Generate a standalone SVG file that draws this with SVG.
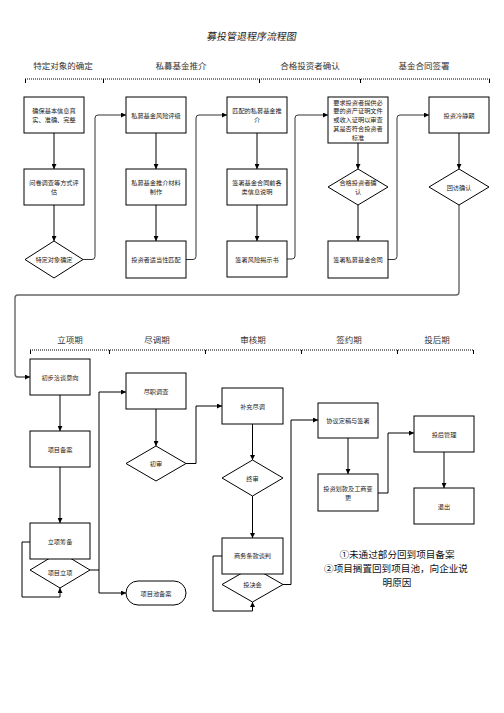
<svg xmlns="http://www.w3.org/2000/svg" width="504" height="713" viewBox="0 0 504 713">
<defs>
<marker id="ah" markerUnits="userSpaceOnUse" markerWidth="5" markerHeight="5" refX="5" refY="2.5" orient="auto">
<path d="M0,0 L5,2.5 L0,5 z" fill="#000"/>
</marker>
<style>
.bx{fill:#fff;stroke:#000;stroke-width:1}
.t{font-family:"Noto Sans CJK SC","Liberation Sans",sans-serif;font-size:6.2px;fill:#222;text-anchor:middle;dominant-baseline:central}
.h{font-family:"Noto Sans CJK SC","Liberation Sans",sans-serif;font-size:8.5px;fill:#333;text-anchor:middle;dominant-baseline:central}
.c{fill:none;stroke:#000;stroke-width:1;marker-end:url(#ah)}
.cg{fill:none;stroke:#333;stroke-width:1;marker-end:url(#ah)}
.cg2{fill:none;stroke:#666;stroke-width:1.4;marker-end:url(#ah)}
.dot{fill:none;stroke:#000;stroke-width:1;stroke-dasharray:1,1}
.tk{stroke:#000;stroke-width:1}
.n{font-family:"Noto Sans CJK SC","Liberation Sans",sans-serif;font-size:9.6px;fill:#111;text-anchor:middle}
</style>
</defs>
<rect width="504" height="713" fill="#fff"/>
<text x="252" y="36" font-family="Noto Sans CJK SC, Liberation Sans, sans-serif" font-size="10" fill="#222" text-anchor="middle" dominant-baseline="central" transform="skewX(-10) translate(6.3,0)">募投管退程序流程图</text>

<g id="header1">
<text class="h" x="63" y="65">特定对象的确定</text>
<text class="h" x="181" y="65">私募基金推介</text>
<text class="h" x="310" y="65">合格投资者确认</text>
<text class="h" x="424" y="65">基金合同签署</text>
<line class="dot" x1="25" y1="79" x2="490" y2="79"/>
<path class="tk" d="M25.5,79V83M103.5,79V83M259.5,79V83M360.5,79V83M489.5,79V83"/>
</g>

<g id="header2">
<text class="h" x="70" y="339">立项期</text>
<text class="h" x="157" y="339">尽调期</text>
<text class="h" x="253" y="339">审核期</text>
<text class="h" x="349" y="339">签约期</text>
<text class="h" x="437" y="339">投后期</text>
<line class="dot" x1="30" y1="350" x2="474" y2="350"/>
<path class="tk" d="M30.5,350V354M109.5,350V354M205.5,350V354M301.5,350V354M397.5,350V354M473.5,350V354"/>
</g>

<g id="connectors">
<path class="c" d="M54,133V169"/>
<path class="c" d="M54,205V241"/>
<path class="c" d="M156,133V169"/>
<path class="c" d="M156,205V241"/>
<path class="c" d="M257,133V169"/>
<path class="c" d="M257,205V241"/>
<path class="c" d="M358,143V169"/>
<path class="c" d="M358,205V241"/>
<path class="c" d="M459,133V169"/>
<path class="cg" d="M83,259.5H92Q95,259.5 95,256.5V118Q95,115 98,115H126"/>
<path class="cg" d="M186,259.5H193Q196,259.5 196,256.5V118Q196,115 199,115H227"/>
<path class="cg" d="M287,259H292Q295,259 295,256V118Q295,115 298,115H328"/>
<path class="cg" d="M388,259.5H394Q397,259.5 397,256.5V118Q397,115 400,115H429"/>
<path class="cg2" d="M459,205V292Q459,295 456,295H18Q15,295 15,298V374Q15,377 18,377H30"/>

<path class="c" d="M60,395V431"/>
<path class="c" d="M60,467V523"/>
<path class="c" d="M30,542H22V597H60V588"/>
<path class="c" d="M90,570H99V392H126"/>
<path class="c" d="M99,570V593H126"/>
<path class="c" d="M156,409V446"/>
<path class="c" d="M186,463.5H196V406H222"/>
<path class="c" d="M252.5,424V460"/>
<path class="c" d="M252.5,496V538"/>
<path class="c" d="M222,556H213V611H252.5V602"/>
<path class="c" d="M283,584.5H291V420H318"/>
<path class="c" d="M348,438V474"/>
<path class="c" d="M378,493H388V433H414"/>
<path class="c" d="M444,452V488"/>
</g>

<g id="n1"><rect class="bx" x="24" y="97" width="60" height="36"/><text class="t" x="54" y="110.5">确保基本信息真</text><text class="t" x="54" y="119.5">实、准确、完整</text></g>
<g id="n2"><rect class="bx" x="24" y="169" width="60" height="36"/><text class="t" x="54" y="182.5">问卷调查等方式评</text><text class="t" x="54" y="191.5">估</text></g>
<g id="n3"><polygon class="bx" points="54,241 83,259.5 54,278 25,259.5"/><text class="t" x="54" y="259.5">特定对象确定</text></g>

<g id="n4"><rect class="bx" x="126" y="97" width="60" height="36"/><text class="t" x="156" y="115">私募基金风险评级</text></g>
<g id="n5"><rect class="bx" x="126" y="169" width="60" height="36"/><text class="t" x="156" y="182.5">私募基金推介材料</text><text class="t" x="156" y="191.5">制作</text></g>
<g id="n6"><rect class="bx" x="126" y="241" width="60" height="37"/><text class="t" x="156" y="259.5">投资者适当性匹配</text></g>

<g id="n7"><rect class="bx" x="227" y="97" width="60" height="36"/><text class="t" x="257" y="110.5">匹配的私募基金推</text><text class="t" x="257" y="119.5">介</text></g>
<g id="n8"><rect class="bx" x="227" y="169" width="60" height="36"/><text class="t" x="257" y="182.5">签署基金合同前各</text><text class="t" x="257" y="191.5">类信息说明</text></g>
<g id="n9"><rect class="bx" x="227" y="241" width="60" height="36"/><text class="t" x="257" y="259">签署风险揭示书</text></g>

<g id="n10"><rect class="bx" x="328" y="97" width="60" height="46"/>
<text class="t" x="358" y="102">要求投资者提供必</text><text class="t" x="358" y="110.8">要的资产证明文件</text><text class="t" x="358" y="119.6">或收入证明以审查</text><text class="t" x="358" y="128.4">其是否符合投资者</text><text class="t" x="358" y="137.2">标准</text></g>
<g id="n11"><polygon class="bx" points="358,169 388,187 358,205 328,187"/><text class="t" x="358" y="182.5">合格投资者确</text><text class="t" x="358" y="191.5">认</text></g>
<g id="n12"><rect class="bx" x="328" y="241" width="60" height="37"/><text class="t" x="358" y="259.5">签署私募基金合同</text></g>

<g id="n13"><rect class="bx" x="429" y="97" width="60" height="36"/><text class="t" x="459" y="115">投资冷静期</text></g>
<g id="n14"><polygon class="bx" points="459,169 489,187 459,205 429,187"/><text class="t" x="459" y="187">回访确认</text></g>

<g id="m1"><rect class="bx" x="30" y="359" width="60" height="36"/><text class="t" x="60" y="377">初步洽谈意向</text></g>
<g id="m2"><rect class="bx" x="30" y="431" width="60" height="36"/><text class="t" x="60" y="449">项目备案</text></g>
<g id="m4"><polygon class="bx" points="60,552 90,570 60,588 30,570"/><text class="t" x="60" y="572">项目立项</text></g>
<g id="m3"><rect class="bx" x="30" y="523" width="60" height="36"/><text class="t" x="60" y="541">立项筹备</text></g>

<g id="m5"><rect class="bx" x="126" y="373" width="60" height="36"/><text class="t" x="156" y="391">尽职调查</text></g>
<g id="m6"><polygon class="bx" points="156,446 186,463.5 156,481 126,463.5"/><text class="t" x="156" y="463.5">初审</text></g>
<g id="m7"><rect class="bx" x="126" y="581" width="60" height="24" rx="12" ry="12"/><text class="t" x="156" y="593">项目池备案</text></g>

<g id="m8"><rect class="bx" x="222" y="388" width="61" height="36"/><text class="t" x="252.5" y="406">补充尽调</text></g>
<g id="m9"><polygon class="bx" points="252.5,460 283,478 252.5,496 222,478"/><text class="t" x="252.5" y="478">终审</text></g>
<g id="m11"><polygon class="bx" points="252.5,567 283,584.5 252.5,602 222,584.5"/><text class="t" x="252.5" y="584.5">投决会</text></g>
<g id="m10"><rect class="bx" x="222" y="538" width="61" height="36"/><text class="t" x="252.5" y="555">商务条款谈判</text></g>

<g id="m12"><rect class="bx" x="318" y="403" width="60" height="35"/><text class="t" x="348" y="420">协议定稿与签署</text></g>
<g id="m13"><rect class="bx" x="318" y="474" width="60" height="37"/><text class="t" x="348" y="488">投资划款及工商变</text><text class="t" x="348" y="497">更</text></g>

<g id="m14"><rect class="bx" x="414" y="416" width="60" height="36"/><text class="t" x="444" y="434">投后管理</text></g>
<g id="m15"><rect class="bx" x="414" y="488" width="60" height="36"/><text class="t" x="444" y="506">退出</text></g>

<g id="note">
<text class="n" x="397" y="557.5">①未通过部分回到项目备案</text>
<text class="n" x="396" y="571.5">②项目搁置回到项目池，向企业说</text>
<text class="n" x="397" y="585.5">明原因</text>
</g>
</svg>
